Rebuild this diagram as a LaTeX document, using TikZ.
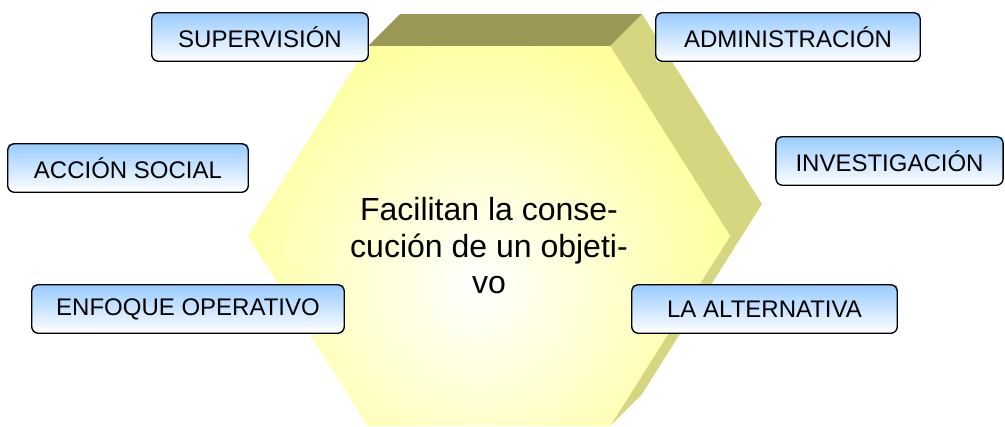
\documentclass[tikz,border=0pt]{standalone}
\usepackage{fontspec}
\setmainfont{Liberation Sans}
\definecolor{hexfront}{HTML}{FFFF99}
\definecolor{hextop}{HTML}{999955}
\definecolor{hexside}{HTML}{D6D580}
\definecolor{boxblue}{HTML}{99CCFF}
\tikzset{
  etiqueta/.style={top color=boxblue, bottom color=white, minimum height=36pt,
    inner sep=0pt, font=\fontsize{18pt}{21pt}\selectfont},
  borde/.style={line width=1pt, rounded corners=5pt}
}
\begin{document}
\begin{tikzpicture}[x=0.75pt,y=-0.75pt]
  \path[use as bounding box] (0,0) rectangle (1005,426);
  % hexagono en relieve
  \fill[hexside] (610,46) -- (642,14) -- (762,204) -- (642,394) -- (610,426) -- (730,236) -- cycle;
  \fill[hextop] (368,46) -- (400,14) -- (642,14) -- (610,46) -- cycle;
  \begin{scope}
    \clip (368,46) -- (610,46) -- (730,236) -- (610,426) -- (368,426) -- (248,236) -- cycle;
    \fill[hexfront] (248,0) rectangle (730,426);
    \shade[inner color=white, outer color=hexfront] (478,285) circle (270);
  \end{scope}
  \node[align=center, inner sep=0pt, font=\fontsize{24pt}{27.4pt}\selectfont]
    (objetivo) at (489,246) {Facilitan la conse-\\cución de un objeti-\\vo};
  % etiquetas
  \node[etiqueta, minimum width=162pt] (superv) at (260,37) {SUPERVISIÓN};
  \node[etiqueta, minimum width=198pt] (admin) at (788,37) {ADMINISTRACIÓN};
  \node[etiqueta, minimum width=170pt] (invest) at (889.5,161) {INVESTIGACIÓN};
  \node[etiqueta, minimum width=180pt] (accion) at (128,168) {ACCIÓN SOCIAL};
  \node[etiqueta, minimum width=234pt] (enfoque) at (188,309) {ENFOQUE OPERATIVO};
  \node[etiqueta, minimum width=198.75pt] (altern) at (764.5,309) {LA ALTERNATIVA};
  \foreach \n in {superv,admin,invest,accion,enfoque,altern}
    \draw[borde] (\n.south west) rectangle (\n.north east);
\end{tikzpicture}
\end{document}
